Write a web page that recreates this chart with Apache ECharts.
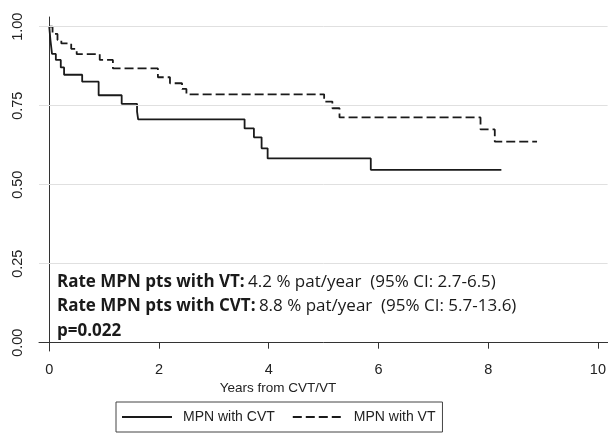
<!DOCTYPE html>
<html><head><meta charset="utf-8">
<script src="https://cdn.jsdelivr.net/npm/echarts@6/dist/echarts.min.js"></script>
<style>html,body{margin:0;padding:0;background:#fff}#c{width:609px;height:435px}</style>
</head><body><div id="c"></div>
<script>
const seriesNames = ['MPN with CVT', 'MPN with VT'];
const timesCVT = [0, 0.02, 0.05, 0.12, 0.21, 0.27, 0.6, 0.9, 1.32, 1.6, 1.62, 3.56, 3.73, 3.87, 3.98, 5.86, 8.24];
const survCVT  = [1, 0.96, 0.914, 0.895, 0.871, 0.848, 0.826, 0.783, 0.756, 0.731, 0.707, 0.678, 0.65, 0.615, 0.583, 0.547, 0.547];
const timesVT  = [0, 0.06, 0.15, 0.22, 0.4, 0.5, 0.92, 1.16, 1.98, 2.2, 2.42, 2.5, 5.01, 5.16, 5.29, 7.86, 8.12, 8.89];
const survVT   = [1, 0.977, 0.958, 0.947, 0.93, 0.913, 0.895, 0.868, 0.84, 0.821, 0.803, 0.786, 0.763, 0.742, 0.713, 0.675, 0.636, 0.636];
const xTicks = [0, 2, 4, 6, 8, 10];
const yTicks = [0, 0.25, 0.5, 0.75, 1];
const gridValues = [0.25, 0.5, 0.75, 1];
const xTitle = 'Years from CVT/VT';
const annotations = [
  ['Rate MPN pts with VT:', '4.2 % pat/year  (95% CI: 2.7-6.5)'],
  ['Rate MPN pts with CVT:', '8.8 % pat/year  (95% CI: 5.7-13.6)'],
  ['p=0.022', '']
];

const chart = echarts.init(document.getElementById('c'));
const axisColor = '#333';
const textFont = 'Open Sans';
const option = {
  backgroundColor: '#fff',
  animation: false,
  grid: { left: 39, right: 0, top: 17, bottom: 84, containLabel: false },
  xAxis: {
    type: 'value', min: -0.187, max: 10.176,
    axisLine: { show: true, lineStyle: { color: axisColor, width: 1 } },
    axisTick: { show: true, length: 6, customValues: xTicks, lineStyle: { color: axisColor } },
    axisLabel: { customValues: xTicks, margin: 11, fontFamily: 'Liberation Sans', fontSize: 14.5, color: '#222' },
    splitLine: { show: false }
  },
  yAxis: {
    type: 'value', min: -0.0263, max: 1.0307,
    axisLine: { show: true, lineStyle: { color: axisColor, width: 1 } },
    axisTick: { show: true, length: 6, customValues: yTicks, lineStyle: { color: axisColor } },
    axisLabel: { customValues: yTicks, rotate: 90, margin: 14, fontFamily: 'Liberation Sans', fontSize: 14.5, color: '#222',
      formatter: v => v.toFixed(2) },
    splitLine: { show: false }
  },
  legend: {
    left: 116, top: 402, orient: 'horizontal',
    data: seriesNames,
    itemWidth: 50, itemHeight: 12, itemGap: 17,
    padding: [8, 7, 8, 5],
    borderColor: '#444', borderWidth: 1,
    itemStyle: { opacity: 0, borderWidth: 0 },
    textStyle: { fontFamily: 'Liberation Sans', fontSize: 14, color: '#222', padding: [0, 0, 0, 6] }
  },
  series: [
    {
      name: seriesNames[0], type: 'line', step: 'end', symbol: 'none',
      data: timesCVT.map((t, i) => [t, survCVT[i]]),
      lineStyle: { color: '#1a1a1a', width: 1.8, type: 'solid' },
      itemStyle: { color: '#1a1a1a' },
      z: 3,
      markLine: {
        silent: true, symbol: 'none', label: { show: false },
        lineStyle: { color: '#e0e0e0', width: 1, type: 'solid' },
        data: gridValues.map(v => ({ yAxis: v }))
      }
    },
    {
      name: seriesNames[1], type: 'line', step: 'end', symbol: 'none',
      data: timesVT.map((t, i) => [t, survVT[i]]),
      lineStyle: { color: '#1a1a1a', width: 1.8, type: [9, 4] },
      itemStyle: { color: '#1a1a1a' },
      z: 3
    }
  ],
  graphic: [
    { type: 'text', x: 278, y: 388, style: { text: xTitle, font: '13.5px "Liberation Sans"', fill: '#222', align: 'center', verticalAlign: 'middle' } }
  ].concat(annotations.map((a, i) => ({
    type: 'text', x: 57, y: 282 + i * 24.5,
    style: {
      text: a[1] ? '{b|' + a[0] + '} {n|' + a[1] + '}' : '{b|' + a[0] + '}',
      verticalAlign: 'middle',
      rich: {
        b: { fontFamily: textFont, fontWeight: 'bold', fontSize: 17, fill: '#1a1a1a', color: '#1a1a1a' },
        n: { fontFamily: textFont, fontSize: 17, fill: '#1a1a1a', color: '#1a1a1a' }
      }
    }
  })))
};
chart.setOption(option);
</script>
</body></html>
